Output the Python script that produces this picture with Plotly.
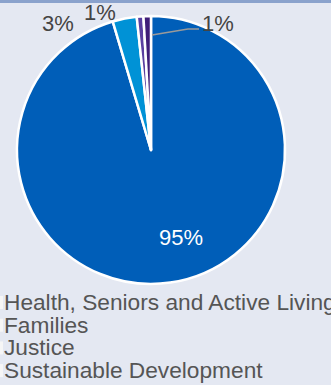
import plotly.graph_objects as go

labels = ["Health, Seniors and Active Living", "Families", "Justice", "Sustainable Development"]
values = [95.4, 2.9, 0.8, 0.9]
colors = ["#005eb8", "#0092d6", "#5a3fa0", "#3f1d78"]

W, H = 331, 385
FONT = "Liberation Sans, Arial, sans-serif"
total = sum(values)
pct = [f"{round(v / total * 100)}%" for v in values]

fig = go.Figure(go.Pie(
    labels=labels, values=values, sort=False, direction="clockwise", rotation=0,
    marker=dict(colors=colors, line=dict(color="white", width=2.5)),
    textinfo="none", showlegend=False,
    domain=dict(x=[17 / W, 285 / W], y=[1 - 284 / H, 1 - 16 / H]),
))

def px(x, y):
    return x / W, 1 - y / H

# percentage labels (pixel anchor points of the label centres)
label_pos = [(181, 237, "white"), (58, 23, "#444"), (100, 12, "#444"), (218, 23, "#444")]
ann = []
for (x, y, c), t in zip(label_pos, pct):
    ax_, ay_ = px(x, y)
    ann.append(dict(x=ax_, y=ay_, xref="paper", yref="paper", text=t, showarrow=False,
                    xanchor="center", yanchor="middle", font=dict(family=FONT, size=22, color=c)))

# legend-like list of category names
for i, name in enumerate(labels):
    ax_, ay_ = px(2, 302 + i * 22.7)
    ann.append(dict(x=ax_, y=ay_, xref="paper", yref="paper", text=name, showarrow=False,
                    xanchor="left", yanchor="middle",
                    font=dict(family=FONT, size=22.7, color="#555")))

shapes = [dict(type="rect", xref="paper", yref="paper", x0=0, x1=1, y0=1 - 3 / H, y1=1.01,
               fillcolor="#8aa2cc", line=dict(width=0))]
p = [px(152, 35), px(188, 29), px(199, 29)]
shapes.append(dict(type="path", xref="paper", yref="paper",
                   path=f"M{p[0][0]},{p[0][1]} L{p[1][0]},{p[1][1]} L{p[2][0]},{p[2][1]}",
                   line=dict(color="#9a9a9a", width=1.5)))
for i in range(len(labels)):
    x0, y0 = px(0, 296 + i * 22.7)
    x1, y1 = px(3, 309 + i * 22.7)
    shapes.append(dict(type="rect", xref="paper", yref="paper", x0=x0, x1=x1, y0=y1, y1=y0,
                       fillcolor="#f6f6f6", line=dict(width=0)))

fig.update_layout(
    width=W, height=H, margin=dict(l=0, r=0, t=0, b=0, autoexpand=False),
    paper_bgcolor="#e4e8f2", plot_bgcolor="#e4e8f2",
    font=dict(family=FONT, color="#555", size=22),
    showlegend=False, annotations=ann, shapes=shapes,
)
fig.write_html("out.html")
